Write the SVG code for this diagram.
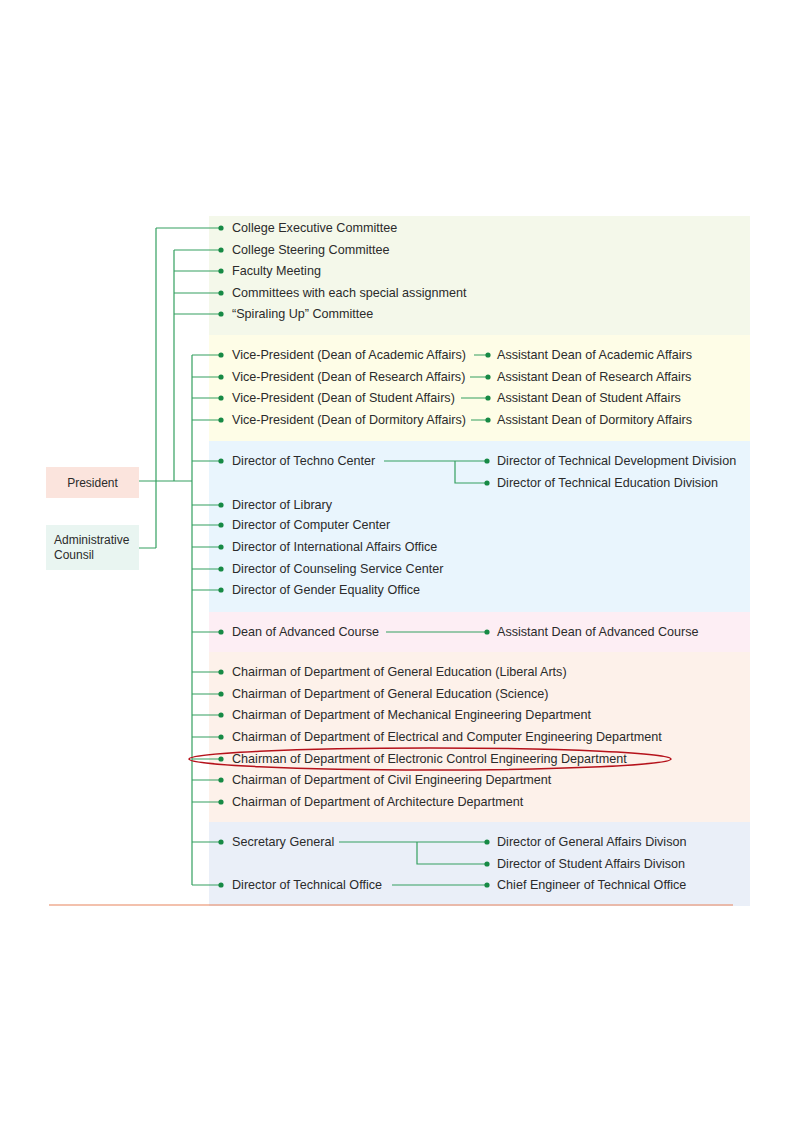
<svg xmlns="http://www.w3.org/2000/svg" width="794" height="1123" viewBox="0 0 794 1123">
<style>
text{font-family:"Liberation Sans",Arial,sans-serif;font-size:12.6px;fill:#2b2b2b}
text.box{font-size:12px}
.ln{stroke:#34a060;stroke-width:1.2;fill:none}
.dot{fill:#178a45}
</style>
<rect width="794" height="1123" fill="#fff"/>
<g id="bands">
<rect x="209" y="216" width="541" height="119" fill="#f4f8ea"/>
<rect x="209" y="335" width="541" height="106" fill="#fefde7"/>
<rect x="209" y="441" width="541" height="171" fill="#e9f5fd"/>
<rect x="209" y="612" width="541" height="40" fill="#fdeef4"/>
<rect x="209" y="652" width="541" height="170" fill="#fdf1ea"/>
<rect x="209" y="822" width="541" height="84" fill="#eaeff8"/>
</g>
<line x1="49" y1="905" x2="733" y2="905" stroke="#e8845c" stroke-width="1.2"/>
<g id="connectors">
<path class="ln" d="M139 481H192M156 228V548M139 548H156M174 250V481M192 355V885"/>
<path class="ln" d="M156 228H221M174 250H221M174 271H221M174 293H221M174 314H221"/>
<path class="ln" d="M192 355H221M192 377H221M192 398H221M192 420H221M192 461H221M192 505H221M192 525H221M192 547H221M192 569H221M192 590H221M192 632H221M192 672H221M192 694H221M192 715H221M192 737H221M192 759H221M192 780H221M192 802H221M192 842H221M192 885H221"/>
<path class="ln" d="M474 355H488M470 377H488M461 398H488M471 420H488"/>
<path class="ln" d="M384 461H487M455 461V483H487M386 632H487M339 842H487M417 842V864H487M392 885H487"/>
</g>
<g id="dots">
<circle class="dot" cx="221" cy="228" r="2.6"/><circle class="dot" cx="221" cy="250" r="2.6"/><circle class="dot" cx="221" cy="271" r="2.6"/><circle class="dot" cx="221" cy="293" r="2.6"/><circle class="dot" cx="221" cy="314" r="2.6"/>
<circle class="dot" cx="221" cy="355" r="2.6"/><circle class="dot" cx="221" cy="377" r="2.6"/><circle class="dot" cx="221" cy="398" r="2.6"/><circle class="dot" cx="221" cy="420" r="2.6"/>
<circle class="dot" cx="488" cy="355" r="2.6"/><circle class="dot" cx="488" cy="377" r="2.6"/><circle class="dot" cx="488" cy="398" r="2.6"/><circle class="dot" cx="488" cy="420" r="2.6"/>
<circle class="dot" cx="221" cy="461" r="2.6"/><circle class="dot" cx="487" cy="461" r="2.6"/><circle class="dot" cx="487" cy="483" r="2.6"/>
<circle class="dot" cx="221" cy="505" r="2.6"/><circle class="dot" cx="221" cy="525" r="2.6"/><circle class="dot" cx="221" cy="547" r="2.6"/><circle class="dot" cx="221" cy="569" r="2.6"/><circle class="dot" cx="221" cy="590" r="2.6"/>
<circle class="dot" cx="221" cy="632" r="2.6"/><circle class="dot" cx="487" cy="632" r="2.6"/>
<circle class="dot" cx="221" cy="672" r="2.6"/><circle class="dot" cx="221" cy="694" r="2.6"/><circle class="dot" cx="221" cy="715" r="2.6"/><circle class="dot" cx="221" cy="737" r="2.6"/><circle class="dot" cx="221" cy="759" r="2.6"/><circle class="dot" cx="221" cy="780" r="2.6"/><circle class="dot" cx="221" cy="802" r="2.6"/>
<circle class="dot" cx="221" cy="842" r="2.6"/><circle class="dot" cx="487" cy="842" r="2.6"/><circle class="dot" cx="487" cy="864" r="2.6"/><circle class="dot" cx="221" cy="885" r="2.6"/><circle class="dot" cx="487" cy="885" r="2.6"/>
</g>
<g id="president"><rect x="46" y="467" width="93" height="31" fill="#fbe4dd"/><text class="box" x="92.5" y="487" text-anchor="middle">President</text></g>
<g id="admin"><rect x="46" y="525" width="93" height="45" fill="#e9f5f1"/><text class="box" x="54" y="544">Administrative</text><text class="box" x="54" y="559">Counsil</text></g>
<g id="labels">
<text x="232" y="232">College Executive Committee</text>
<text x="232" y="254">College Steering Committee</text>
<text x="232" y="275">Faculty Meeting</text>
<text x="232" y="297">Committees with each special assignment</text>
<text x="232" y="318">“Spiraling Up” Committee</text>
<text x="232" y="359">Vice-President (Dean of Academic Affairs)</text>
<text x="232" y="381">Vice-President (Dean of Research Affairs)</text>
<text x="232" y="402">Vice-President (Dean of Student Affairs)</text>
<text x="232" y="424">Vice-President (Dean of Dormitory Affairs)</text>
<text x="497" y="359">Assistant Dean of Academic Affairs</text>
<text x="497" y="381">Assistant Dean of Research Affairs</text>
<text x="497" y="402">Assistant Dean of Student Affairs</text>
<text x="497" y="424">Assistant Dean of Dormitory Affairs</text>
<text x="232" y="465">Director of Techno Center</text>
<text x="497" y="465">Director of Technical Development Division</text>
<text x="497" y="487">Director of Technical Education Division</text>
<text x="232" y="509">Director of Library</text>
<text x="232" y="529">Director of Computer Center</text>
<text x="232" y="551">Director of International Affairs Office</text>
<text x="232" y="573">Director of Counseling Service Center</text>
<text x="232" y="594">Director of Gender Equality Office</text>
<text x="232" y="636">Dean of Advanced Course</text>
<text x="497" y="636">Assistant Dean of Advanced Course</text>
<text x="232" y="676">Chairman of Department of General Education (Liberal Arts)</text>
<text x="232" y="698">Chairman of Department of General Education (Science)</text>
<text x="232" y="719">Chairman of Department of Mechanical Engineering Department</text>
<text x="232" y="741">Chairman of Department of Electrical and Computer Engineering Department</text>
<text x="232" y="763">Chairman of Department of Electronic Control Engineering Department</text>
<text x="232" y="784">Chairman of Department of Civil Engineering Department</text>
<text x="232" y="806">Chairman of Department of Architecture Department</text>
<text x="232" y="846">Secretary General</text>
<text x="497" y="846">Director of General Affairs Divison</text>
<text x="497" y="868">Director of Student Affairs Divison</text>
<text x="232" y="889">Director of Technical Office</text>
<text x="497" y="889">Chief Engineer of Technical Office</text>
</g>
<ellipse cx="430" cy="759" rx="241" ry="11" fill="none" stroke="#b5121b" stroke-width="1.5"/>
</svg>
